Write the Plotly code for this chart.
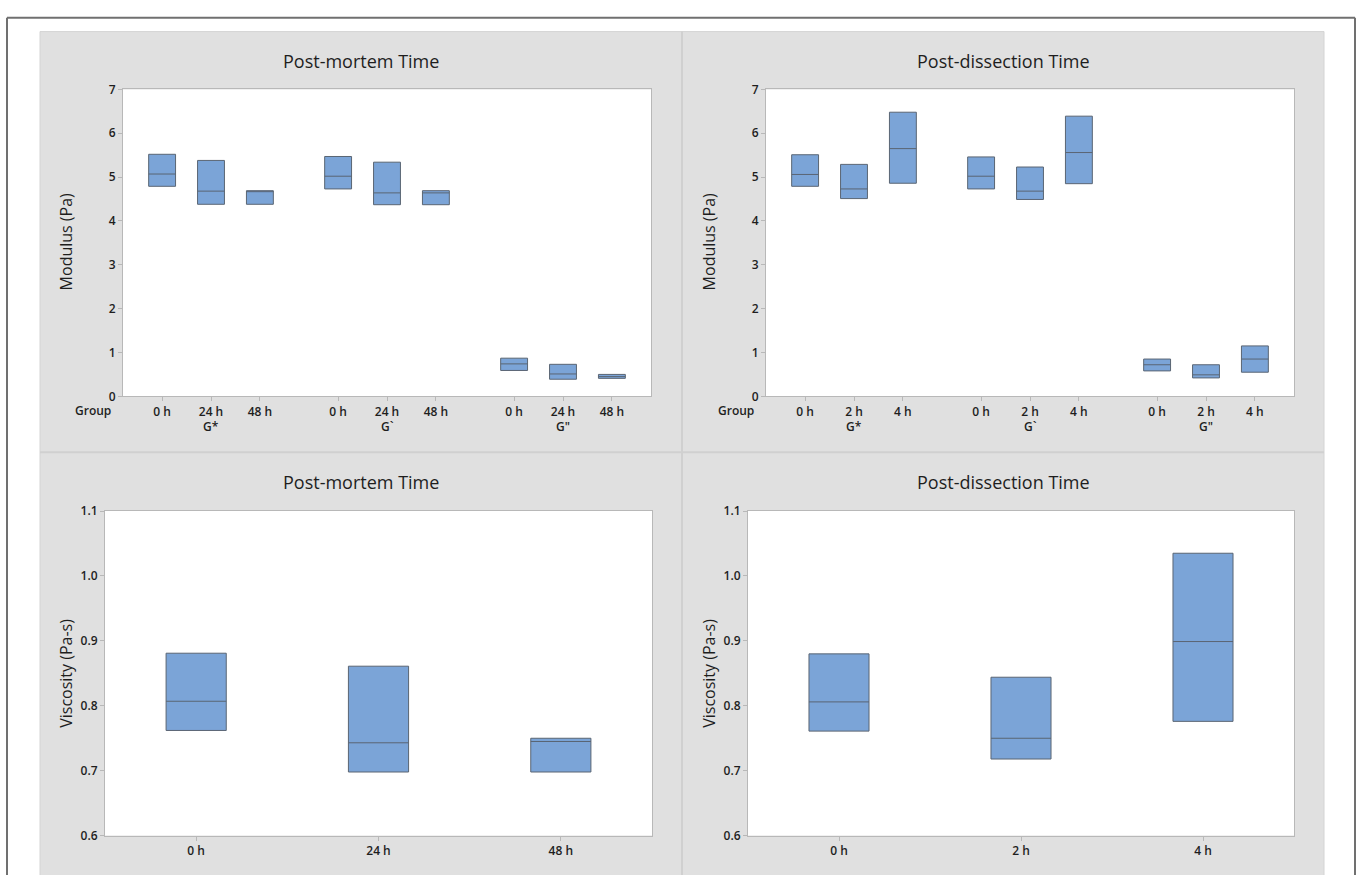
import plotly.graph_objects as go

W, H = 1358, 875

# ---------------- data ----------------
pm_times = ["0 h", "24 h", "48 h"]
pd_times = ["0 h", "2 h", "4 h"]
moduli = ["G*", "G`", 'G"']

# Post-mortem modulus (G*, G`, G") x (0 h, 24 h, 48 h)
pm_q3 = [5.52, 5.38, 4.69, 5.47, 5.34, 4.69, 0.87, 0.73, 0.50]
pm_med = [5.07, 4.68, 4.67, 5.02, 4.64, 4.64, 0.74, 0.51, 0.45]
pm_q1 = [4.79, 4.38, 4.38, 4.73, 4.37, 4.37, 0.59, 0.39, 0.41]

# Post-dissection modulus (G*, G`, G") x (0 h, 2 h, 4 h)
pd_q3 = [5.51, 5.29, 6.48, 5.46, 5.23, 6.39, 0.85, 0.72, 1.15]
pd_med = [5.06, 4.73, 5.65, 5.02, 4.68, 5.56, 0.72, 0.49, 0.85]
pd_q1 = [4.79, 4.51, 4.86, 4.73, 4.49, 4.85, 0.58, 0.42, 0.55]

# Viscosity
visc_pm_q3 = [0.881, 0.861, 0.750]
visc_pm_med = [0.807, 0.743, 0.745]
visc_pm_q1 = [0.762, 0.698, 0.698]

visc_pd_q3 = [0.880, 0.844, 1.035]
visc_pd_med = [0.806, 0.750, 0.899]
visc_pd_q1 = [0.761, 0.718, 0.776]

# ---------------- styling ----------------
FILL = "#7BA4D7"
EDGE = "#5a6573"
AXC = "#b8b8b8"
PANEL = "#e0e0e0"
FONT = "Open Sans"
TXT = "#1e1e1e"

GROUP_GAP = 3.6
grouped_x = [g * GROUP_GAP + i for g in range(len(moduli)) for i in range(3)]
simple_x = list(range(3))


def px(x):
    return x / W


def py(y):
    return 1 - y / H


def box(xs, q1, med, q3, width, xa, ya):
    return go.Box(
        x=xs, q1=q1, median=med, q3=q3, lowerfence=q1, upperfence=q3,
        width=width, fillcolor=FILL, line=dict(color=EDGE, width=1),
        whiskerwidth=0, boxpoints=False, showlegend=False, hoverinfo="skip",
        xaxis=xa, yaxis=ya,
    )


fig = go.Figure()
fig.add_trace(box(grouped_x, pm_q1, pm_med, pm_q3, 0.55, "x", "y"))
fig.add_trace(box(grouped_x, pd_q1, pd_med, pd_q3, 0.55, "x2", "y2"))
fig.add_trace(box(simple_x, visc_pm_q1, visc_pm_med, visc_pm_q3, 0.33, "x3", "y3"))
fig.add_trace(box(simple_x, visc_pd_q1, visc_pd_med, visc_pd_q3, 0.33, "x4", "y4"))

tickfont = dict(family=FONT, size=12, color=TXT, weight=600)
common = dict(showgrid=False, zeroline=False, showline=True, mirror=True,
              linecolor=AXC, linewidth=1, ticks="outside", ticklen=4,
              tickcolor=AXC, tickfont=tickfont, fixedrange=True)

dom_top = [py(395), py(82)]
dom_bot = [py(843), py(512)]

fig.update_layout(
    width=W, height=H, autosize=False,
    margin=dict(l=0, r=0, t=0, b=0),
    paper_bgcolor="white", plot_bgcolor="white",
    showlegend=False,
    xaxis=dict(domain=[px(123), px(651)], anchor="y", range=[-0.8, 10.0],
               tickvals=grouped_x, ticktext=pm_times * 3, **common),
    yaxis=dict(domain=dom_top, anchor="x", range=[0, 7], dtick=1, **common),
    xaxis2=dict(domain=[px(766), px(1294)], anchor="y2", range=[-0.8, 10.0],
                tickvals=grouped_x, ticktext=pd_times * 3, **common),
    yaxis2=dict(domain=dom_top, anchor="x2", range=[0, 7], dtick=1, **common),
    xaxis3=dict(domain=[px(105), px(652)], anchor="y3", range=[-0.5, 2.5],
                tickvals=simple_x, ticktext=pm_times, **common),
    yaxis3=dict(domain=dom_bot, anchor="x3", range=[0.6, 1.1], dtick=0.1,
                tickformat=".1f", **common),
    xaxis4=dict(domain=[px(748), px(1294)], anchor="y4", range=[-0.5, 2.5],
                tickvals=simple_x, ticktext=pd_times, **common),
    yaxis4=dict(domain=dom_bot, anchor="x4", range=[0.6, 1.1], dtick=0.1,
                tickformat=".1f", **common),
)

shapes = []
# gray panel background
shapes.append(dict(type="rect", xref="paper", yref="paper", layer="below",
                   x0=px(40), x1=px(1324), y0=-0.01, y1=py(23),
                   fillcolor=PANEL, line=dict(color="#d4d4d4", width=1)))
# panel dividers
shapes.append(dict(type="line", xref="paper", yref="paper", layer="below",
                   x0=px(682), x1=px(682), y0=-0.01, y1=py(23),
                   line=dict(color="#d0d0d0", width=2)))
shapes.append(dict(type="line", xref="paper", yref="paper", layer="below",
                   x0=px(40), x1=px(1324), y0=py(452), y1=py(452),
                   line=dict(color="#d0d0d0", width=2)))
# white plot areas
for (x0, x1, y0, y1) in [(123, 651, 82, 395), (766, 1294, 82, 395),
                         (105, 652, 512, 843), (748, 1294, 512, 843)]:
    shapes.append(dict(type="rect", xref="paper", yref="paper", layer="below",
                       x0=px(x0), x1=px(x1), y0=py(y1), y1=py(y0),
                       fillcolor="white", line=dict(width=0)))
# outer frame
frame = dict(color="#707070", width=2)
shapes.append(dict(type="line", xref="paper", yref="paper", x0=px(7), x1=px(7),
                   y0=-0.01, y1=py(9), line=frame))
shapes.append(dict(type="line", xref="paper", yref="paper", x0=px(7), x1=px(1355),
                   y0=py(9), y1=py(9), line=frame))
shapes.append(dict(type="line", xref="paper", yref="paper", x0=px(1355), x1=px(1355),
                   y0=-0.01, y1=py(9), line=frame))
fig.update_layout(shapes=shapes)

ann = []
title_font = dict(family=FONT, size=18, color=TXT)
axis_font = dict(family=FONT, size=16, color=TXT)
for x, y, t in [(361, 53, "Post-mortem Time"), (1003, 53, "Post-dissection Time"),
                (361, 482, "Post-mortem Time"), (1003, 482, "Post-dissection Time")]:
    ann.append(dict(xref="paper", yref="paper", x=px(x), y=py(y), text=t,
                    showarrow=False, xanchor="center", yanchor="middle", font=title_font))
for x, y, t in [(66, 238, "Modulus (Pa)"), (709, 238, "Modulus (Pa)"),
                (66, 678, "Viscosity (Pa-s)"), (709, 678, "Viscosity (Pa-s)")]:
    ann.append(dict(xref="paper", yref="paper", x=px(x), y=py(y), text=t,
                    textangle=-90, showarrow=False, xanchor="center",
                    yanchor="middle", font=axis_font))
for x in (93, 736):
    ann.append(dict(xref="paper", yref="paper", x=px(x), y=py(409), text="Group",
                    showarrow=False, xanchor="center", yanchor="middle", font=tickfont))
for xa in ("x", "x2"):
    for g, m in enumerate(moduli):
        ann.append(dict(xref=xa, yref="paper", x=g * GROUP_GAP + 1, y=py(426), text=m,
                        showarrow=False, xanchor="center", yanchor="middle", font=tickfont))
fig.update_layout(annotations=ann)

fig.write_html(
    "out.html",
    config={"displayModeBar": False},
    post_script=(
        "document.documentElement.style.margin='0';"
        "document.body.style.margin='0';"
        "document.body.style.overflow='hidden';"
    ),
)
